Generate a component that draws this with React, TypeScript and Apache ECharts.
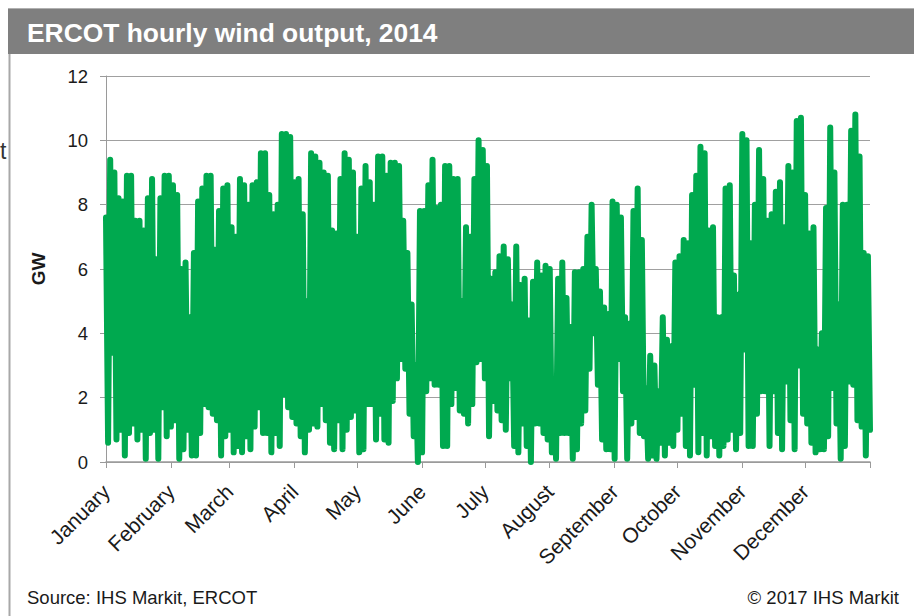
import React, { useEffect, useRef } from "react";
import * as echarts from "echarts";

// Two-day windows (day 2k = window high, day 2k+1 = window low), GW
const peaksJanFeb = [7.6, 9.4, 9.0, 8.2, 8.1, 8.9, 8.9, 7.5, 7.5, 7.2, 8.2, 8.8, 6.3, 8.2, 8.9, 8.9, 8.6, 8.3, 6.0, 6.2, 4.5, 6.5, 8.1, 8.5, 8.9, 8.9, 6.6, 7.8, 8.5, 8.6];
const troughsJanFeb = [0.6, 3.4, 0.7, 1.0, 0.2, 0.9, 1.2, 0.7, 1.0, 0.1, 0.9, 1.0, 0.1, 1.7, 0.8, 1.1, 1.3, 0.1, 0.4, 1.0, 0.2, 0.2, 0.9, 1.8, 1.7, 1.5, 1.3, 0.2, 0.8, 1.0];
const peaksMarApr = [7.3, 7.0, 8.8, 8.6, 8.0, 8.6, 8.7, 9.6, 9.6, 8.3, 7.7, 8.0, 10.2, 10.2, 10.1, 8.7, 8.8, 7.7, 5.0, 9.6, 9.5, 9.3, 9.0, 8.9, 7.2, 7.1, 8.8, 9.6, 9.4, 9.0];
const troughsMarApr = [0.3, 0.5, 0.3, 0.8, 0.4, 1.1, 1.7, 0.9, 0.9, 0.3, 0.9, 0.5, 2.1, 1.7, 1.4, 1.2, 0.8, 0.3, 1.0, 1.2, 1.1, 1.8, 1.3, 0.6, 0.4, 1.3, 0.4, 1.0, 1.4, 1.6];
const peaksMayJun = [7.0, 8.5, 9.2, 8.7, 8.0, 9.5, 9.5, 8.9, 9.3, 9.3, 9.2, 7.5, 6.5, 4.9, 3.0, 7.8, 7.8, 8.6, 9.4, 7.9, 8.0, 9.2, 9.2, 8.8, 8.8, 5.0, 7.3, 7.0, 8.8, 10.0];
const troughsMayJun = [0.3, 0.4, 1.8, 1.8, 0.7, 1.5, 0.7, 0.6, 1.9, 2.6, 3.2, 2.9, 1.5, 0.8, 0.0, 0.3, 2.2, 2.6, 2.4, 2.4, 0.5, 0.5, 1.8, 2.3, 1.6, 1.5, 1.2, 1.8, 3.1, 3.2];
const peaksJulAug = [9.7, 9.2, 5.7, 5.9, 6.4, 6.7, 6.3, 4.9, 6.7, 5.5, 5.7, 4.4, 5.6, 6.2, 5.8, 6.1, 6.0, 2.5, 5.7, 6.2, 5.1, 4.2, 5.9, 5.9, 6.0, 7.0, 8.0, 6.0, 5.3, 4.8];
const troughsJulAug = [2.6, 0.8, 1.9, 1.6, 1.3, 1.0, 2.6, 0.5, 0.3, 1.2, 0.5, 0.0, 1.2, 1.2, 0.9, 0.7, 0.3, 0.1, 0.9, 0.9, 0.9, 0.1, 0.4, 1.2, 1.6, 2.9, 4.0, 2.4, 0.7, 0.4];
const peaksSepOct = [4.6, 8.1, 8.0, 7.6, 4.5, 4.3, 7.8, 8.5, 6.9, 2.3, 3.3, 3.0, 2.2, 4.5, 3.8, 3.6, 6.2, 6.4, 6.9, 6.8, 8.3, 8.9, 9.8, 9.6, 7.2, 7.3, 4.5, 4.5, 8.5];
const troughsSepOct = [0.4, 0.1, 3.2, 2.2, 0.1, 1.2, 1.4, 0.9, 0.8, 0.1, 0.2, 0.1, 0.6, 0.2, 0.6, 0.5, 1.0, 1.5, 0.5, 0.2, 2.4, 0.3, 0.9, 0.2, 0.8, 0.5, 0.2, 0.5, 0.7];
const peaksNovDec = [8.6, 5.8, 5.2, 10.2, 10.0, 6.8, 8.0, 9.7, 8.8, 7.5, 7.7, 8.4, 8.7, 7.3, 9.2, 9.0, 10.6, 10.7, 8.3, 7.1, 7.3, 3.5, 4.0, 7.9, 10.4, 9.0, 4.9, 8.0, 8.0, 10.3, 10.8, 9.5, 6.5, 6.4];
const troughsNovDec = [1.0, 0.4, 0.9, 3.5, 0.5, 0.5, 1.5, 2.2, 2.2, 0.5, 2.2, 0.9, 0.4, 2.5, 1.3, 0.4, 3.0, 1.5, 1.2, 0.6, 0.3, 0.4, 0.4, 0.8, 2.3, 1.2, 0.1, 0.5, 2.5, 2.4, 1.3, 1.1, 0.2, 1.0];

const monthNames = ["January", "February", "March", "April", "May", "June", "July", "August", "September", "October", "November", "December"];
const monthStartDay = [0, 31, 59, 90, 120, 151, 181, 212, 243, 273, 304, 334, 365];
const yTicks = [0, 2, 4, 6, 8, 10, 12];

const peaks = [...peaksJanFeb, ...peaksMarApr, ...peaksMayJun, ...peaksJulAug, ...peaksSepOct, ...peaksNovDec];
const troughs = [...troughsJanFeb, ...troughsMarApr, ...troughsMayJun, ...troughsJulAug, ...troughsSepOct, ...troughsNovDec];

const FONT = "'Liberation Sans', Arial, sans-serif";

export default function App() {
  const ref = useRef<HTMLDivElement>(null);
  useEffect(() => {
    if (!ref.current) return;
    const chart = echarts.init(ref.current, undefined, { renderer: "svg" });
    const values: number[] = [];
    peaks.forEach((p, i) => {
      values.push(p);
      values.push(troughs[i]);
    });
    const days = values.map((_, i) => String(i));
    const isTick = (idx: number) => monthStartDay.includes(idx);
    const isLabel = (idx: number) => monthStartDay.slice(0, 12).includes(idx);
    chart.setOption({
      animation: false,
      backgroundColor: "#ffffff",
      grid: { left: 106, top: 76, width: 764, height: 386, containLabel: false },
      xAxis: {
        type: "category",
        data: days,
        boundaryGap: false,
        axisLine: { show: true, lineStyle: { color: "#9a9a9a", width: 1.5 } },
        axisTick: { show: true, length: 6, interval: (idx: number) => isTick(idx), lineStyle: { color: "#9a9a9a", width: 1 } },
        axisLabel: {
          interval: (idx: number) => isLabel(idx),
          rotate: 45,
          margin: 26,
          verticalAlign: "middle",
          fontSize: 21,
          fontFamily: FONT,
          color: "#1a1a1a",
          formatter: (v: string) => {
            const i = monthStartDay.indexOf(Number(v));
            return i >= 0 && i < 12 ? monthNames[i] : "";
          },
        },
        splitLine: { show: false },
      },
      yAxis: {
        type: "value",
        min: yTicks[0],
        max: yTicks[yTicks.length - 1],
        interval: 2,
        name: "GW",
        nameLocation: "middle",
        nameGap: 58,
        nameTextStyle: { fontSize: 19, fontWeight: "bold", fontFamily: FONT, color: "#1a1a1a" },
        axisLine: { show: true, lineStyle: { color: "#9a9a9a", width: 1 } },
        axisTick: { show: true, length: 6, lineStyle: { color: "#9a9a9a" } },
        axisLabel: { margin: 18, fontSize: 18.5, fontFamily: FONT, color: "#1a1a1a" },
        splitLine: { show: true, lineStyle: { color: "#a0a0a0", width: 1.2 } },
      },
      series: [
        {
          type: "line",
          data: values,
          symbol: "none",
          showSymbol: false,
          clip: false,
          silent: true,
          lineStyle: { color: "#00a94f", width: 6, cap: "round", join: "round" },
        },
      ],
      graphic: [
        { type: "rect", left: 8, top: 8, shape: { width: 906, height: 46 }, style: { fill: "#7f7f7f" }, silent: true },
        { type: "line", shape: { x1: 8, y1: 8.5, x2: 914, y2: 8.5 }, style: { stroke: "#b0b0b0", lineWidth: 1 }, silent: true },
        {
          type: "text",
          x: 27,
          y: 33,
          style: { text: "ERCOT hourly wind output, 2014", fill: "#ffffff", font: `bold 26.4px ${FONT}`, textVerticalAlign: "middle" },
          silent: true,
        },
        { type: "line", shape: { x1: 9.5, y1: 54, x2: 9.5, y2: 616 }, style: { stroke: "#a8a8a8", lineWidth: 2 }, silent: true },
        { type: "text", x: 0, y: 151, style: { text: "t", fill: "#333333", font: `23px ${FONT}`, textVerticalAlign: "middle" }, silent: true },
        {
          type: "text",
          x: 27,
          y: 597,
          style: { text: "Source: IHS Markit, ERCOT", fill: "#1a1a1a", font: `18.5px ${FONT}`, textVerticalAlign: "middle" },
          silent: true,
        },
        {
          type: "text",
          x: 899,
          y: 597,
          style: { text: "© 2017 IHS Markit", fill: "#1a1a1a", font: `18.5px ${FONT}`, textAlign: "right", textVerticalAlign: "middle" },
          silent: true,
        },
      ],
    });
    return () => chart.dispose();
  }, []);
  return <div ref={ref} style={{ position: "fixed", left: 0, top: 0, width: 914, height: 616 }} />;
}
